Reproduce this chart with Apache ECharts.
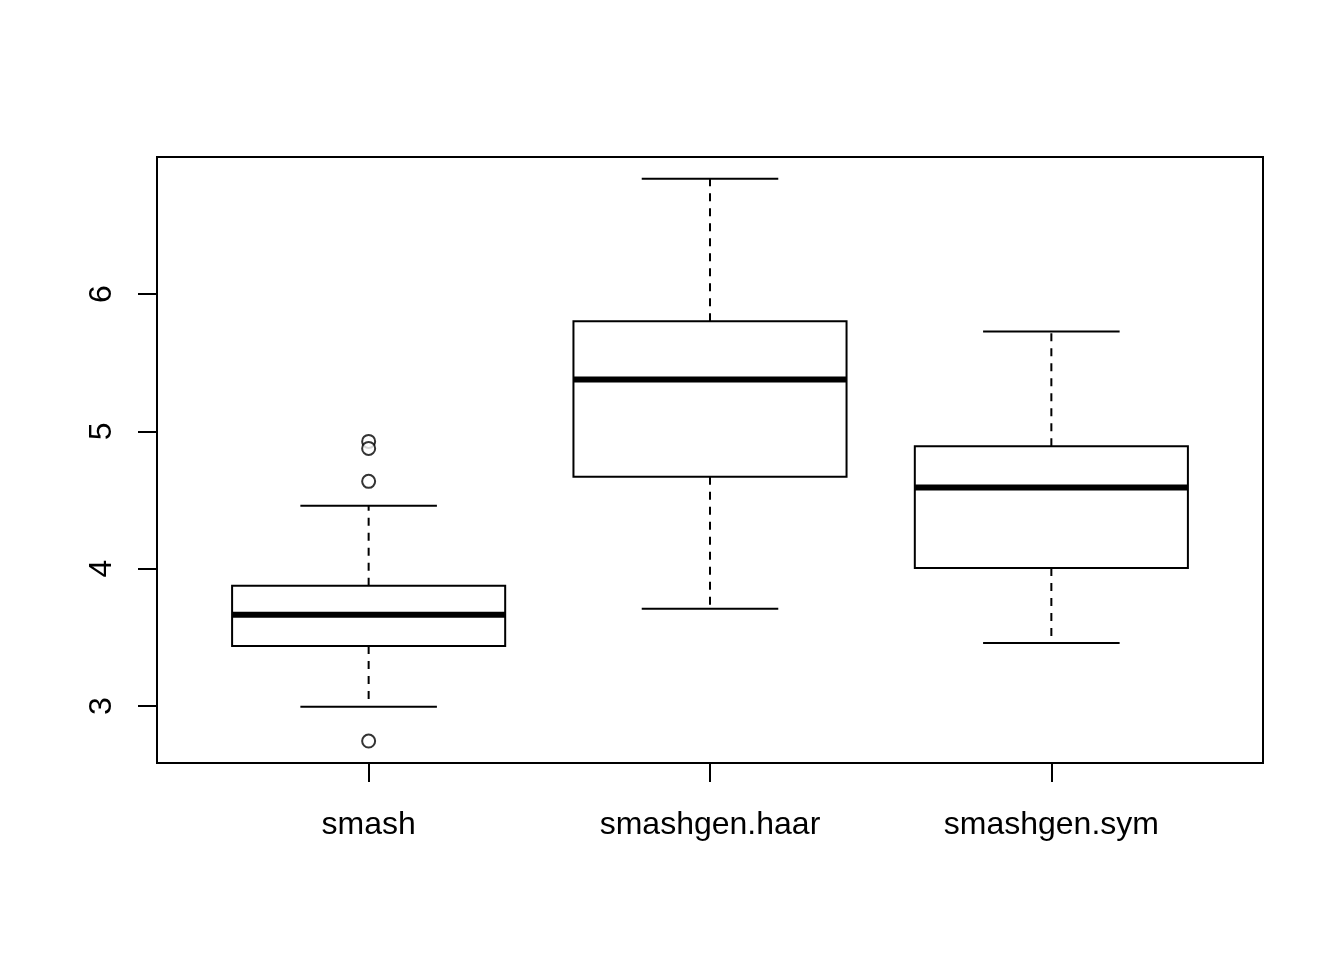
<!DOCTYPE html>
<html>
<head>
<meta charset="utf-8">
<script src="https://cdn.jsdelivr.net/npm/echarts@6/dist/echarts.min.js"></script>
<style>
html,body{margin:0;padding:0;background:#fff;}
#chart{width:1344px;height:960px;}
</style>
</head>
<body>
<div id="chart"></div>
<script>
const categories = ['smash', 'smashgen.haar', 'smashgen.sym'];
const whiskerLow  = [2.995, 3.709, 3.459];
const q1          = [3.437, 4.670, 4.005];
const median      = [3.665, 5.378, 4.592];
const q3          = [3.876, 5.801, 4.891];
const whiskerHigh = [4.459, 6.840, 5.728];
const outlierCat   = [1, 1, 1, 1];
const outlierValue = [4.927, 4.876, 4.636, 2.745];
const yTicks = [3, 4, 5, 6];

const boxData = categories.map((c, i) => [i + 1, whiskerLow[i], q1[i], median[i], q3[i], whiskerHigh[i]]);
const outlierData = outlierCat.map((c, i) => [c, outlierValue[i]]);

const chart = echarts.init(document.getElementById('chart'), null, {renderer: 'canvas'});
const FONT = '"Liberation Sans", Arial, sans-serif';

function renderBox(params, api) {
  const x = api.value(0);
  const pLow = api.coord([x, api.value(1)]);
  const pQ1 = api.coord([x, api.value(2)]);
  const pMed = api.coord([x, api.value(3)]);
  const pQ3 = api.coord([x, api.value(4)]);
  const pHigh = api.coord([x, api.value(5)]);
  const boxW = api.size([0.8, 0])[0];
  const capW = api.size([0.4, 0])[0];
  const cx = pMed[0];
  const lw = 2;
  return {
    type: 'group',
    children: [
      {type: 'line', shape: {x1: cx, y1: pQ3[1], x2: cx, y2: pHigh[1]},
       style: {stroke: '#000', lineWidth: lw, lineDash: [8, 7]}},
      {type: 'line', shape: {x1: cx, y1: pQ1[1], x2: cx, y2: pLow[1]},
       style: {stroke: '#000', lineWidth: lw, lineDash: [8, 7]}},
      {type: 'line', shape: {x1: cx - capW / 2, y1: pHigh[1], x2: cx + capW / 2, y2: pHigh[1]},
       style: {stroke: '#000', lineWidth: lw}},
      {type: 'line', shape: {x1: cx - capW / 2, y1: pLow[1], x2: cx + capW / 2, y2: pLow[1]},
       style: {stroke: '#000', lineWidth: lw}},
      {type: 'rect', shape: {x: cx - boxW / 2, y: pQ3[1], width: boxW, height: pQ1[1] - pQ3[1]},
       style: {fill: '#fff', stroke: '#000', lineWidth: lw}},
      {type: 'line', shape: {x1: cx - boxW / 2, y1: pMed[1], x2: cx + boxW / 2, y2: pMed[1]},
       style: {stroke: '#000', lineWidth: 6}}
    ]
  };
}

const option = {
  backgroundColor: '#fff',
  animation: false,
  grid: {left: 157, top: 157, right: 81, bottom: 197, show: true, borderColor: '#000', borderWidth: 2, backgroundColor: 'transparent'},
  xAxis: {
    type: 'value', min: 0.38, max: 3.62,
    axisLine: {show: false},
    splitLine: {show: false},
    axisTick: {show: true, customValues: [1, 2, 3], length: 19, lineStyle: {color: '#000', width: 2}},
    axisLabel: {show: true, customValues: [1, 2, 3], margin: 46, color: '#000', fontSize: 32, fontFamily: FONT,
      formatter: v => categories[Math.round(v) - 1] || ''}
  },
  yAxis: {
    type: 'value', min: 2.585, max: 6.998,
    axisLine: {show: false},
    splitLine: {show: false},
    axisTick: {show: true, customValues: yTicks, length: 19, lineStyle: {color: '#000', width: 2}},
    axisLabel: {show: true, customValues: yTicks, rotate: 90, margin: 39, color: '#000', fontSize: 32, fontFamily: FONT,
      formatter: v => String(v)}
  },
  series: [
    {type: 'custom', renderItem: renderBox, data: boxData, silent: true,
     encode: {x: 0, y: [1, 2, 3, 4, 5]}},
    {type: 'scatter', data: outlierData, symbol: 'emptyCircle', symbolSize: 13, silent: true,
     itemStyle: {color: '#000', borderColor: '#000', borderWidth: 2}}
  ]
};
chart.setOption(option);
</script>
</body>
</html>
